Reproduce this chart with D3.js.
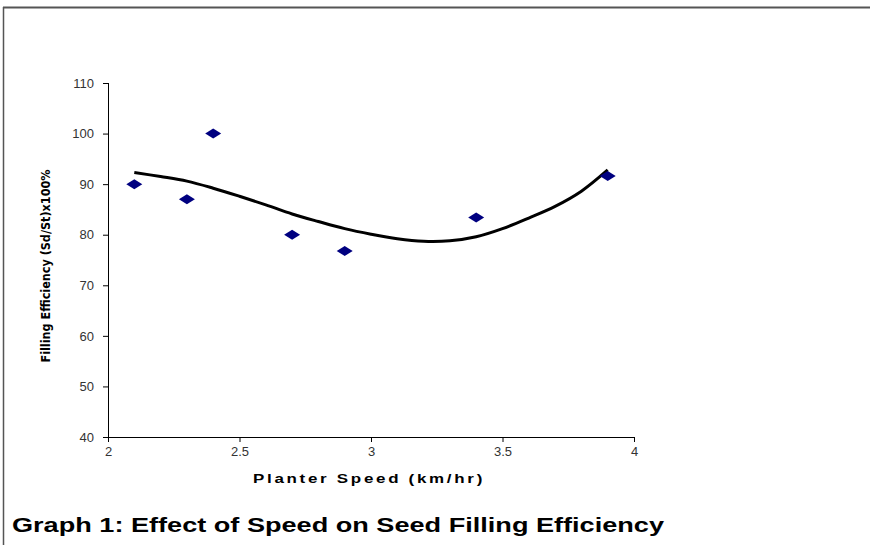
<!DOCTYPE html>
<html>
<head>
<meta charset="utf-8">
<script src="https://cdn.jsdelivr.net/npm/d3@7"></script>
<style>
 body { margin: 0; background: #fff; }
 svg { display: block; }
 .tick text { font-family: "Liberation Sans", Arial, sans-serif; font-size: 13px; fill: #333; }
</style>
</head>
<body>
<svg id="graph"></svg>
<script>
// measured points
let speeds = [2.1, 2.3, 2.4, 2.7, 2.9, 3.4, 3.9];
let efficiency = [90, 87, 100, 80, 76.8, 83.4, 91.6];

// trend line
let trendX = [2.1, 2.2, 2.3, 2.4, 2.5, 2.6, 2.7, 2.8, 2.9, 3.0, 3.1, 3.2, 3.3, 3.4, 3.5, 3.6, 3.7, 3.8, 3.9];
let trendY = [92.3, 91.5, 90.6, 89.2, 87.6, 85.9, 84.1, 82.6, 81.2, 80.1, 79.2, 78.7, 78.8, 79.6, 81.2, 83.3, 85.6, 88.6, 92.8];

let xTicks = [2, 2.5, 3, 3.5, 4];
let yTicks = [40, 50, 60, 70, 80, 90, 100, 110];

let width = 870;
let height = 545;
let plotLeft = 108, plotRight = 634, plotTop = 83, plotBottom = 437;

let svg = d3.select("#graph")
 .attr("width", width)
 .attr("height", height);

// frame lines
svg.append("line").attr("x1", 3.5).attr("y1", 7).attr("x2", 3.5).attr("y2", height)
 .attr("stroke", "#555").attr("stroke-width", 1.5);
svg.append("line").attr("x1", 3).attr("y1", 7.5).attr("x2", width).attr("y2", 7.5)
 .attr("stroke", "#555").attr("stroke-width", 2);

let scaleX = d3.scaleLinear().domain([2, 4]).range([plotLeft, plotRight]);
let scaleY = d3.scaleLinear().domain([40, 110]).range([plotBottom, plotTop]);

let axisX = d3.axisBottom(scaleX).tickValues(xTicks).tickSize(5).tickPadding(5).tickFormat(d => d);
let axisY = d3.axisLeft(scaleY).tickValues(yTicks).tickSize(5).tickPadding(9);

svg.append("g")
 .attr("transform", `translate(0, ${plotBottom})`)
 .call(axisX)
 .call(g => g.select(".domain").attr("d", `M${plotLeft},0.5H${plotRight}`));

svg.append("g")
 .attr("transform", `translate(${plotLeft}, 0)`)
 .call(axisY)
 .call(g => g.select(".domain").attr("d", `M0.5,${plotTop}V${plotBottom}`));

svg.selectAll(".tick line").attr("stroke", "#000");
svg.selectAll(".domain").attr("stroke", "#000");

// axis titles
svg.append("text")
 .attr("x", (plotLeft + plotRight) / 2 - 2)
 .attr("y", 483)
 .attr("text-anchor", "middle")
 .attr("textLength", 232)
 .attr("lengthAdjust", "spacingAndGlyphs")
 .style("font-family", "Liberation Sans, Arial, sans-serif")
 .style("font-size", "12.5px")
 .style("font-weight", "bold")
 .style("letter-spacing", "2px")
 .text("Planter Speed (km/hr)");

svg.append("text")
 .attr("transform", "translate(50, 266) rotate(-90)")
 .attr("text-anchor", "middle")
 .attr("textLength", 193)
 .attr("lengthAdjust", "spacingAndGlyphs")
 .style("font-family", "DejaVu Sans Condensed, DejaVu Sans, sans-serif")
 .style("font-size", "13px")
 .style("font-weight", "bold")
 .text("Filling Efficiency (Sd/St)x100%");

// trend line
let line = d3.line()
 .x((d, i) => scaleX(trendX[i]))
 .y(d => scaleY(d))
 .curve(d3.curveCatmullRom);

svg.append("path")
 .datum(trendY)
 .attr("d", line)
 .attr("fill", "none")
 .attr("stroke", "#000")
 .attr("stroke-width", 3);

// diamonds
svg.selectAll(".dot")
 .data(speeds)
 .enter()
 .append("path")
 .attr("d", "M-8,0L0,-5L8,0L0,5Z")
 .attr("transform", (d, i) => `translate(${scaleX(d)}, ${scaleY(efficiency[i])})`)
 .style("fill", "#000080");

// caption
svg.append("text")
 .attr("x", 12)
 .attr("y", 532)
 .attr("textLength", 652)
 .attr("lengthAdjust", "spacingAndGlyphs")
 .style("font-family", "Liberation Sans, Arial, sans-serif")
 .style("font-size", "20px")
 .style("font-weight", "bold")
 .text("Graph 1: Effect of Speed on Seed Filling Efficiency");
</script>
</body>
</html>
